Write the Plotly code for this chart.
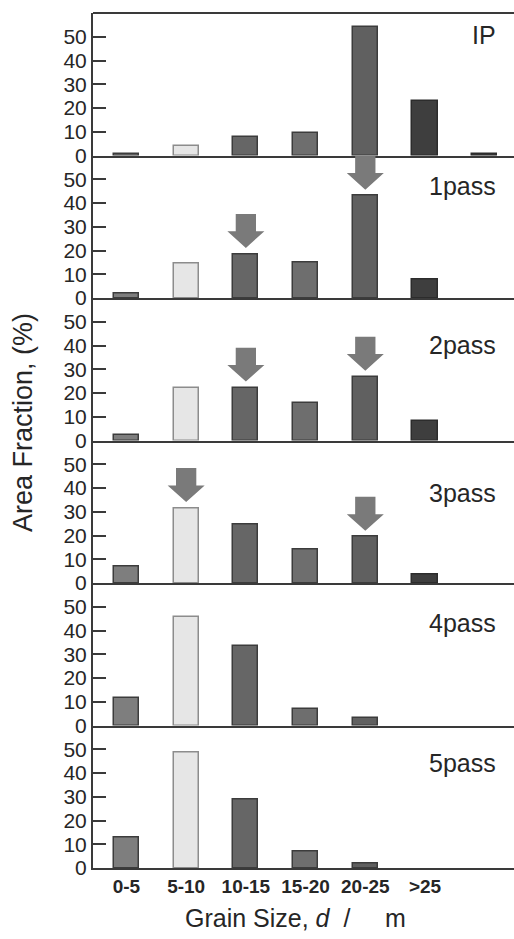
import plotly.graph_objects as go
from plotly.subplots import make_subplots

# ---- data ----
categories = ["0-5", "5-10", "10-15", "15-20", "20-25", ">25", ""]
panel_names = ["IP", "1pass", "2pass", "3pass", "4pass", "5pass"]
ip_vals = [0.5, 4.0, 8.0, 9.5, 54.0, 23.0, 0.5]
p1_vals = [2.0, 14.5, 18.5, 15.0, 43.0, 8.0, None]
p2_vals = [2.5, 22.0, 22.2, 15.7, 26.8, 8.2, None]
p3_vals = [6.8, 31.5, 24.8, 13.9, 19.4, 3.5, None]
p4_vals = [11.4, 45.5, 33.4, 6.9, 3.3, None, None]
p5_vals = [12.9, 48.8, 28.9, 6.9, 2.0, None, None]
series = [ip_vals, p1_vals, p2_vals, p3_vals, p4_vals, p5_vals]
# arrows: (panel index, category index)
arrows = [(1, 2), (1, 4), (2, 2), (2, 4), (3, 1), (3, 4)]
y_ticks = [0, 10, 20, 30, 40, 50]

# ---- styles ----
bar_colors = ["#7e7e7e", "#e6e6e6", "#666666", "#6e6e6e", "#606060", "#3e3e3e", "#3a3a3a"]
bar_lines = ["#3c3c3c", "#8c8c8c", "#3c3c3c", "#3c3c3c", "#3c3c3c", "#2c2c2c", "#2c2c2c"]
label_y = [50.7, 47.3, 40.2, 38.0, 43.1, 44.4]
FONT = "Liberation Sans, Arial, sans-serif"
AX = "#3a3a3a"

xpos = list(range(len(categories)))
fig = make_subplots(rows=6, cols=1, shared_xaxes=True, vertical_spacing=0)

for i, vals in enumerate(series):
    fig.add_trace(
        go.Bar(
            x=xpos, y=vals, width=0.42,
            marker=dict(color=bar_colors, line=dict(color=bar_lines, width=1.5)),
            showlegend=False, hoverinfo="skip",
        ),
        row=i + 1, col=1,
    )
    fig.add_annotation(
        x=6.22, y=label_y[i], xref=f"x{'' if i == 0 else i + 1}", yref=f"y{'' if i == 0 else i + 1}",
        text=panel_names[i], showarrow=False, xanchor="right", yanchor="middle",
        font=dict(family=FONT, size=25, color="#262626"),
    )

# arrows above selected bars
gap, head_h, total_h, head_w, shaft_w = 2.6, 7.0, 14.3, 0.31, 0.17
for p, c in arrows:
    tip = series[p][c] + gap
    cx = xpos[c]
    pts = [(cx, tip), (cx - head_w, tip + head_h), (cx - shaft_w, tip + head_h),
           (cx - shaft_w, tip + total_h), (cx + shaft_w, tip + total_h),
           (cx + shaft_w, tip + head_h), (cx + head_w, tip + head_h)]
    path = "M " + " L ".join(f"{x},{y}" for x, y in pts) + " Z"
    fig.add_shape(type="path", path=path, xref=f"x{p + 1}", yref=f"y{p + 1}",
                  fillcolor="#7a7a7a", line=dict(width=0))

for i in range(6):
    fig.update_yaxes(
        range=[0, 60], tickvals=y_ticks, ticktext=[str(v) for v in y_ticks],
        ticks="inside", ticklen=13, tickwidth=2, tickcolor=AX,
        showline=True, linecolor=AX, linewidth=2, showgrid=False, zeroline=False,
        tickfont=dict(family=FONT, size=21, color="#262626"),
        row=i + 1, col=1,
    )
    fig.update_xaxes(
        range=[-0.56, 6.49], tickvals=xpos[:6], ticktext=categories[:6],
        showline=True, linecolor=AX, linewidth=2, showgrid=False, zeroline=False,
        ticks="", tickfont=dict(family=FONT, size=19, color="#262626"),
        row=i + 1, col=1,
    )
fig.update_xaxes(ticktext=[f"<b>{c}</b>" for c in categories[:6]], row=6, col=1)

# top frame line
fig.add_shape(type="line", xref="paper", yref="paper", x0=0, x1=1, y0=1, y1=1,
              line=dict(color=AX, width=2))

fig.add_annotation(x=-0.166, y=0.5205, xref="paper", yref="paper", textangle=-90,
                   xanchor="center", yanchor="middle",
                   text="Area Fraction, (%)", showarrow=False,
                   font=dict(family=FONT, size=27, color="#262626"))
fig.add_annotation(x=0.482, y=-0.0585, xref="paper", yref="paper",
                   xanchor="center", yanchor="middle",
                   text="Grain Size, <i>d</i>&nbsp; /&nbsp;&nbsp;&nbsp;&nbsp; m", showarrow=False,
                   font=dict(family=FONT, size=25, color="#262626"))

fig.update_layout(
    width=514, height=939, bargap=0,
    margin=dict(l=93, r=0, t=13, b=71),
    paper_bgcolor="white", plot_bgcolor="white",
)
fig.write_html("out.html", config={"displayModeBar": False},
               post_script="document.body.style.margin='0';")
